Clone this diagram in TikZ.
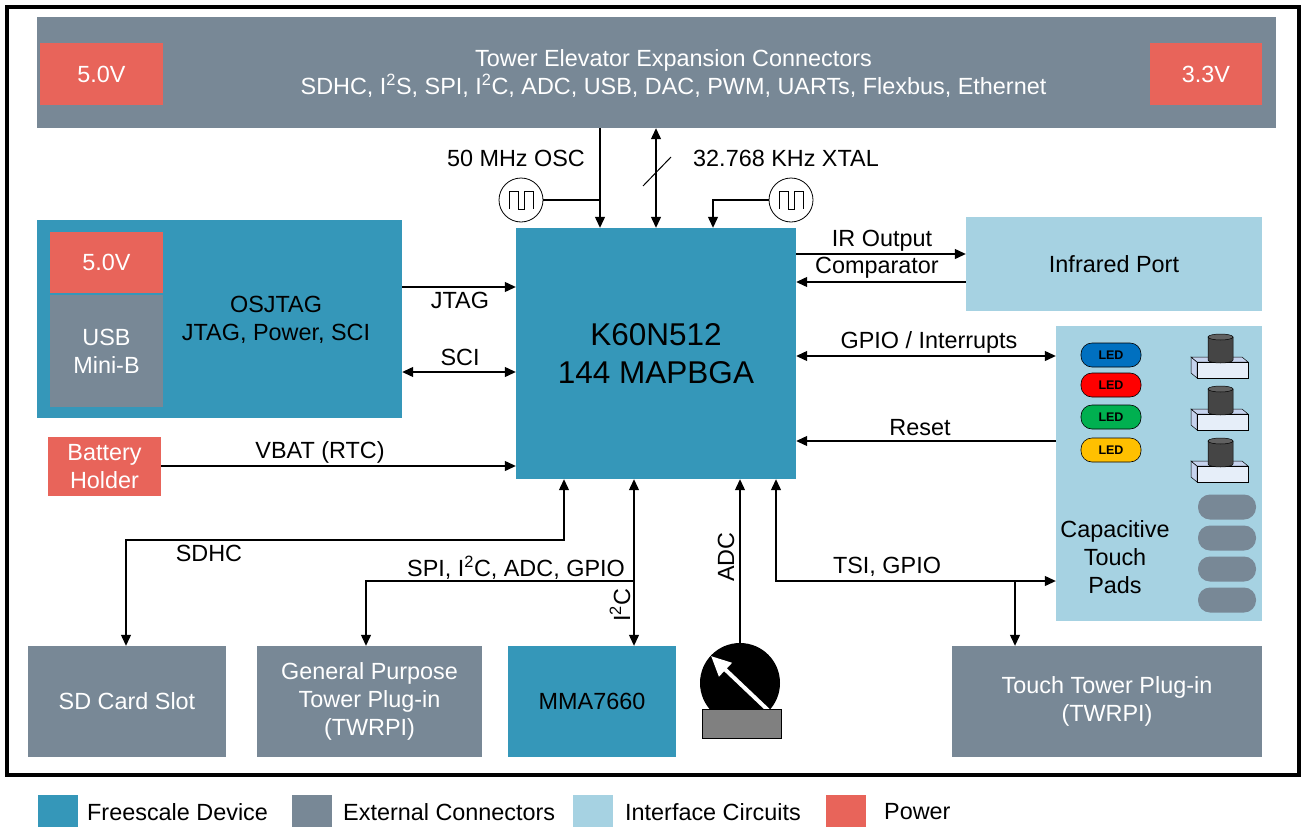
\documentclass[tikz,border=0pt]{standalone}
\usepackage{fontspec}
\setmainfont{Liberation Sans}
\usetikzlibrary{arrows.meta,shapes.geometric}
\definecolor{fslblue}{HTML}{3597B9}
\definecolor{extgray}{HTML}{788896}
\definecolor{ifcblue}{HTML}{A6D2E2}
\definecolor{pwrred}{HTML}{E8645A}
\definecolor{ledblue}{HTML}{0070C0}
\definecolor{ledred}{HTML}{FF0000}
\definecolor{ledgreen}{HTML}{00B050}
\definecolor{ledyellow}{HTML}{FFC000}
\definecolor{potgray}{HTML}{808080}
\definecolor{btnfront}{HTML}{E6EEF9}
\definecolor{btnside}{HTML}{C6D3EE}
\definecolor{btncyl}{HTML}{454545}
\begin{document}
\begin{tikzpicture}[x=1pt,y=-1pt,font=\fontsize{23.4}{28}\selectfont]
\tikzset{
  wh/.style 2 args={minimum width=#1pt,minimum height=#2pt},
  box/.style={rectangle,inner sep=0pt,align=center,text=white},
  fsl/.style={box,fill=fslblue,text=black},
  ext/.style={box,fill=extgray},
  ifc/.style={box,fill=ifcblue,text=black},
  pwr/.style={box,fill=pwrred},
  txt/.style={inner sep=0pt,align=center},
  conn/.style={line width=1.2pt,draw=black},
  arr/.style={conn,-{Triangle[length=11pt,width=10pt]}},
  darr/.style={conn,{Triangle[length=11pt,width=10pt]}-{Triangle[length=11pt,width=10pt]}},
  lbl/.style={inner sep=0pt,text=black},
  osc/.style={circle,draw=black,line width=0.8pt,fill=white,minimum size=44pt,inner sep=0pt,
    path picture={\draw[line width=0.8pt] ([shift={(-12,9)}]path picture bounding box.center)
      -- ++(0,-18) -- ++(9,0) -- ++(0,18) -- ++(6,0) -- ++(0,-18) -- ++(9,0) -- ++(0,18);}},
  led/.style={rectangle,rounded corners=11pt,draw=black,line width=0.6pt,wh={60}{24},inner sep=0pt,
    font=\fontsize{12.5}{13}\selectfont\bfseries,text=black},
  pad/.style={rectangle,rounded corners=12pt,fill=extgray,wh={58}{25},inner sep=0pt},
  legbox/.style={rectangle,inner sep=0pt,wh={40}{33}},
  legtxt/.style={inner sep=0pt,anchor=west},
  pics/pushbtn/.style={code={
    \filldraw[fill=btnside,draw=black,line width=0.5pt] (-6,-5) -- (0,0) -- (0,16) -- (-6,11) -- cycle;
    \filldraw[fill=btnside,draw=black,line width=0.5pt] (-6,-5) -- (45,-5) -- (51,0) -- (0,0) -- cycle;
    \filldraw[fill=btnfront,draw=black,line width=0.5pt] (0,0) rectangle (51,16);
    \filldraw[fill=btncyl,draw=black,line width=0.5pt] (11,-25) -- (11,-2) arc[start angle=180,end angle=360,x radius=12.5,y radius=-3] -- (36,-25) -- cycle;
    \filldraw[fill=btncyl!85!white,draw=black,line width=0.5pt] (23.5,-25) ellipse[x radius=12.5,y radius=3];
  }}
}
\useasboundingbox (0,0) rectangle (1304,827);

% outer frame
\draw[line width=4pt] (7,7) rectangle (1299,775);

% top bar
\node[ext,wh={1239}{111}] (topbar) at (656.5,72.5) {};
\node[txt,text=white] (topbartext) at (673.5,73.5) {Tower Elevator Expansion Connectors\\SDHC, I\textsuperscript{2}S, SPI, I\textsuperscript{2}C, ADC, USB, DAC, PWM, UARTs, Flexbus, Ethernet};
\node[pwr,wh={123}{62}] (p50top) at (101.5,74) {5.0V};
\node[pwr,wh={112}{62}] (p33top) at (1206,74) {3.3V};

% OSJTAG
\node[fsl,wh={365}{198}] (osjtag) at (219.5,319) {};
\node[txt] (osjtagtext) at (276,320) {OSJTAG\\JTAG, Power, SCI};
\node[pwr,wh={113}{61}] (p50jtag) at (106.5,262.5) {5.0V};
\node[ext,wh={113}{112}] (usb) at (106.5,351) {USB\\Mini-B};

% battery
\node[pwr,wh={113}{59}] (battery) at (104.5,466.5) {Battery\\Holder};

% K60
\node[fsl,wh={280}{251},font=\fontsize{31.5}{38}\selectfont] (k60) at (656,353.5) {K60N512\\144 MAPBGA};

% IR port
\node[ifc,wh={296}{94}] (ir) at (1114,264) {Infrared Port};

% capacitive / LED / buttons box
\node[ifc,wh={206}{295}] (cap) at (1159,473.5) {};
\node[txt] (captext) at (1115,557) {Capacitive\\Touch\\Pads};
\node[led,fill=ledblue] (led1) at (1111,355) {LED};
\node[led,fill=ledred] (led2) at (1111,385) {LED};
\node[led,fill=ledgreen] (led3) at (1111,417) {LED};
\node[led,fill=ledyellow] (led4) at (1111,450) {LED};
\pic at (1197,362) {pushbtn};
\pic at (1197,414) {pushbtn};
\pic at (1197,466) {pushbtn};
\node[pad] (pad1) at (1227,507) {};
\node[pad] (pad2) at (1227,538) {};
\node[pad] (pad3) at (1227,569) {};
\node[pad] (pad4) at (1227,600) {};

% bottom boxes
\node[ext,wh={198}{111}] (sd) at (127,701.5) {SD Card Slot};
\node[ext,wh={225}{111}] (gp) at (369.5,701.5) {General Purpose\\Tower Plug-in\\(TWRPI)};
\node[fsl,wh={168}{111}] (mma) at (592,701.5) {MMA7660};
\node[ext,wh={310}{111}] (touch) at (1107,701.5) {Touch Tower Plug-in\\(TWRPI)};

% potentiometer
\node[circle,fill=black,minimum size=80pt,inner sep=0pt] (pot) at (740,683) {};
\draw[white,line width=4pt,-{Triangle[length=20pt,width=18pt]}] (770,712) -- (711,656);
\node[rectangle,draw=black,line width=0.8pt,fill=potgray,wh={79}{29},inner sep=0pt] (potbase) at (741.5,723.5) {};

% oscillators
\node[osc] (osc1) at (521,200) {};
\node[osc] (osc2) at (791,200) {};
\coordinate (j50) at (600,200);

% top connectors
\draw[arr] (topbar.south -| j50) -- (k60.north -| j50);
\draw[conn] (osc1.east) -- (j50);
\draw[darr] (topbar.south -| 656,0) -- (k60.north -| 656,0);
\draw[conn,line width=1pt] (643,186) -- (671,157);
\draw[arr] (osc2.west) -| (k60.north -| 713,0);
\node[lbl] (l50) at (516,158) {50 MHz OSC};
\node[lbl] (lxtal) at (786,158) {32.768 KHz XTAL};

% left connectors
\draw[arr] (osjtag.east |- 0,287) -- (k60.west |- 0,287);
\node[lbl] (ljtag) at (460,300) {JTAG};
\draw[darr] (osjtag.east |- 0,372) -- (k60.west |- 0,372);
\node[lbl] (lsci) at (460,357) {SCI};
\draw[arr] (battery.east |- 0,466) -- (k60.west |- 0,466);
\node[lbl] (lvbat) at (320,452) {VBAT (RTC)};

% right connectors
\draw[arr] (k60.east |- 0,254) -- (ir.west |- 0,254);
\node[lbl] (lir) at (882,241) {IR Output};
\draw[arr] (ir.west |- 0,282) -- (k60.east |- 0,282);
\node[lbl] (lcomp) at (877,268) {Comparator};
\draw[darr] (k60.east |- 0,356) -- (cap.west |- 0,356);
\node[lbl] (lgpio) at (929,342) {GPIO / Interrupts};
\draw[arr] (cap.west |- 0,441) -- (k60.east |- 0,441);
\node[lbl] (lreset) at (920,428) {Reset};

% bottom connectors
\draw[darr] (k60.south -| 564,0) -- (564,540) -| (sd.north -| 126,0);
\node[lbl] (lsdhc) at (209,553) {SDHC};
\coordinate (jspi) at (634,581);
\draw[darr] (k60.south -| jspi) -- (mma.north -| jspi);
\draw[arr] (jspi) -| (gp.north -| 366,0);
\node[lbl] (lspi) at (516,568) {SPI, I\textsuperscript{2}C, ADC, GPIO};
\node[lbl,rotate=90] (li2c) at (620,605) {I\textsuperscript{2}C};
\draw[arr] (pot.north) -- (k60.south -| pot.north);
\node[lbl,rotate=90] (ladc) at (726,557) {ADC};
\draw[darr] (k60.south -| 776,0) -- (776,581) -- (cap.west |- 0,581);
\coordinate (jtsi) at (1015,581);
\draw[arr] (jtsi) -- (touch.north -| jtsi);
\node[lbl] (ltsi) at (887,567) {TSI, GPIO};

% legend
\node[legbox,fill=fslblue] (lg1) at (58,811.5) {};
\node[legtxt] (lt1) at (87,812) {Freescale Device};
\node[legbox,fill=extgray] (lg2) at (312,811.5) {};
\node[legtxt] (lt2) at (343,812) {External Connectors};
\node[legbox,fill=ifcblue] (lg3) at (593,811.5) {};
\node[legtxt] (lt3) at (625,812) {Interface Circuits};
\node[legbox,fill=pwrred] (lg4) at (846,811.5) {};
\node[legtxt] (lt4) at (884,812) {Power};
\end{tikzpicture}
\end{document}
